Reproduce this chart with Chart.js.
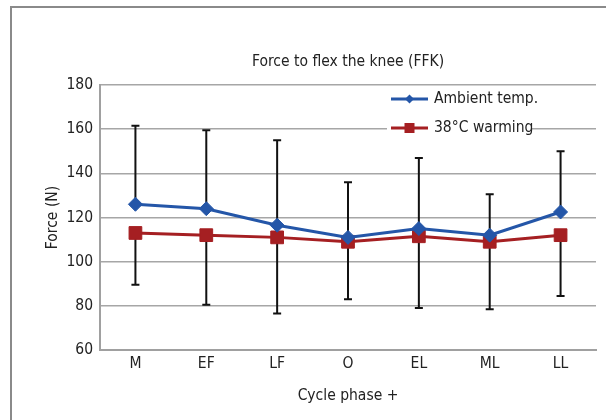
<!DOCTYPE html>
<html><head><meta charset="utf-8">
<script src="https://cdn.jsdelivr.net/npm/chart.js@4/dist/chart.umd.min.js"></script>
<style>
html,body{margin:0;padding:0;background:#fff;}
#wrap{position:relative;width:606px;height:420px;overflow:hidden;}
#frame{position:absolute;left:10px;top:6px;width:700px;height:500px;border-left:2px solid #8a8a8a;border-top:2px solid #8a8a8a;}
canvas{position:absolute;left:0;top:0;}
</style></head><body>
<div id="wrap"><div id="frame"></div><canvas id="c" width="606" height="420"></canvas></div>
<script>
// Data
const categories = ['M', 'EF', 'LF', 'O', 'EL', 'ML', 'LL'];
const ambient = [126, 124, 116.5, 111, 115, 112, 122.5];
const warming = [113, 112, 111, 109, 111.5, 109, 112];
const ambientErrorTop = [161.5, 159.5, 155, 136, 147, 130.5, 150];
const warmingErrorBottom = [89.5, 80.5, 76.5, 83, 79, 78.5, 84.5];
const yTicks = [60, 80, 100, 120, 140, 160, 180];

const FONT = '"Liberation Sans Narrow", "DejaVu Sans Condensed", "Arial Narrow", sans-serif';
const FS = 15.5;
const TXT = '#222222';
const BLUE = '#2456a8';
const RED = '#a51f22';

const errorBars = {
  id: 'errorBars',
  beforeDatasetsDraw(chart) {
    const {ctx, scales: {x, y}} = chart;
    ctx.save();
    ctx.strokeStyle = '#111';
    ctx.lineWidth = 2;
    const draw = (vals, ends) => vals.forEach((v, i) => {
      const px = x.getPixelForValue(i);
      const y0 = y.getPixelForValue(v), y1 = y.getPixelForValue(ends[i]);
      ctx.beginPath();
      ctx.moveTo(px, y0); ctx.lineTo(px, y1);
      ctx.moveTo(px - 4, y1); ctx.lineTo(px + 4, y1);
      ctx.stroke();
    });
    draw(ambient, ambientErrorTop);
    draw(warming, warmingErrorBottom);
    ctx.restore();
  }
};

const insideLegend = {
  id: 'insideLegend',
  afterDatasetsDraw(chart) {
    const {ctx, chartArea} = chart;
    const x0 = chartArea.right - 209;
    const y0 = chartArea.top + 3;
    ctx.save();
    ctx.fillStyle = '#fff';
    ctx.fillRect(x0, y0, 144, 52);
    chart.data.datasets.forEach((ds, i) => {
      const cy = chartArea.top + 14 + i * 29;
      ctx.strokeStyle = ds.borderColor;
      ctx.lineWidth = 3;
      ctx.beginPath();
      ctx.moveTo(x0 + 4, cy); ctx.lineTo(x0 + 41, cy);
      ctx.stroke();
      ctx.fillStyle = ds.borderColor;
      const mx = x0 + 22.5;
      if (ds.pointStyle === 'rectRot') {
        ctx.beginPath();
        ctx.moveTo(mx - 4.5, cy); ctx.lineTo(mx, cy - 4.5);
        ctx.lineTo(mx + 4.5, cy); ctx.lineTo(mx, cy + 4.5);
        ctx.closePath(); ctx.fill();
      } else {
        ctx.fillRect(mx - 5, cy - 5, 10, 10);
      }
      ctx.fillStyle = TXT;
      ctx.font = FS + 'px ' + FONT;
      ctx.textBaseline = 'middle';
      ctx.textAlign = 'left';
      ctx.fillText(ds.label, x0 + 47, cy);
    });
    ctx.restore();
  }
};

const font = {family: FONT, size: FS, weight: 'normal', lineHeight: 1.2};

new Chart(document.getElementById('c'), {
  type: 'line',
  data: {
    labels: categories,
    datasets: [
      {label: 'Ambient temp.', data: ambient, borderColor: BLUE, backgroundColor: BLUE,
       borderWidth: 3, pointStyle: 'rectRot', pointRadius: 7, pointBorderWidth: 1, tension: 0},
      {label: '38°C warming', data: warming, borderColor: RED, backgroundColor: RED,
       borderWidth: 3, pointStyle: 'rect', pointRadius: 9, pointBorderWidth: 1, tension: 0}
    ]
  },
  options: {
    responsive: false,
    animation: false,
    devicePixelRatio: 1,
    layout: {padding: {left: 0, right: 9, top: 0, bottom: 0}},
    plugins: {
      legend: {display: false},
      tooltip: {enabled: false},
      title: {display: true, text: 'Force to flex the knee (FFK)', fullSize: false, color: TXT,
              font: font, padding: {top: 53, bottom: 13.4}}
    },
    scales: {
      x: {
        offset: true,
        grid: {display: false, drawTicks: false, offset: true},
        border: {color: '#a0a0a0', width: 2},
        ticks: {color: TXT, font: font, padding: 5},
        title: {display: true, text: 'Cycle phase +', color: TXT, font: font, padding: {top: 0, bottom: 15}},
        afterFit(s) { s.height = 70; }
      },
      y: {
        min: 60, max: 180,
        afterBuildTicks(s) { s.ticks = yTicks.map(v => ({value: v})); },
        ticks: {color: TXT, font: font, padding: 7},
        grid: {color: '#a6a6a6', lineWidth: 1.5, drawTicks: false},
        border: {color: '#a0a0a0', width: 2},
        title: {display: true, text: 'Force (N)', color: TXT, font: font, padding: {top: 44, bottom: 0}},
        afterFit(s) { s.width = 100; }
      }
    }
  },
  plugins: [errorBars, insideLegend]
});
</script>
</body></html>
